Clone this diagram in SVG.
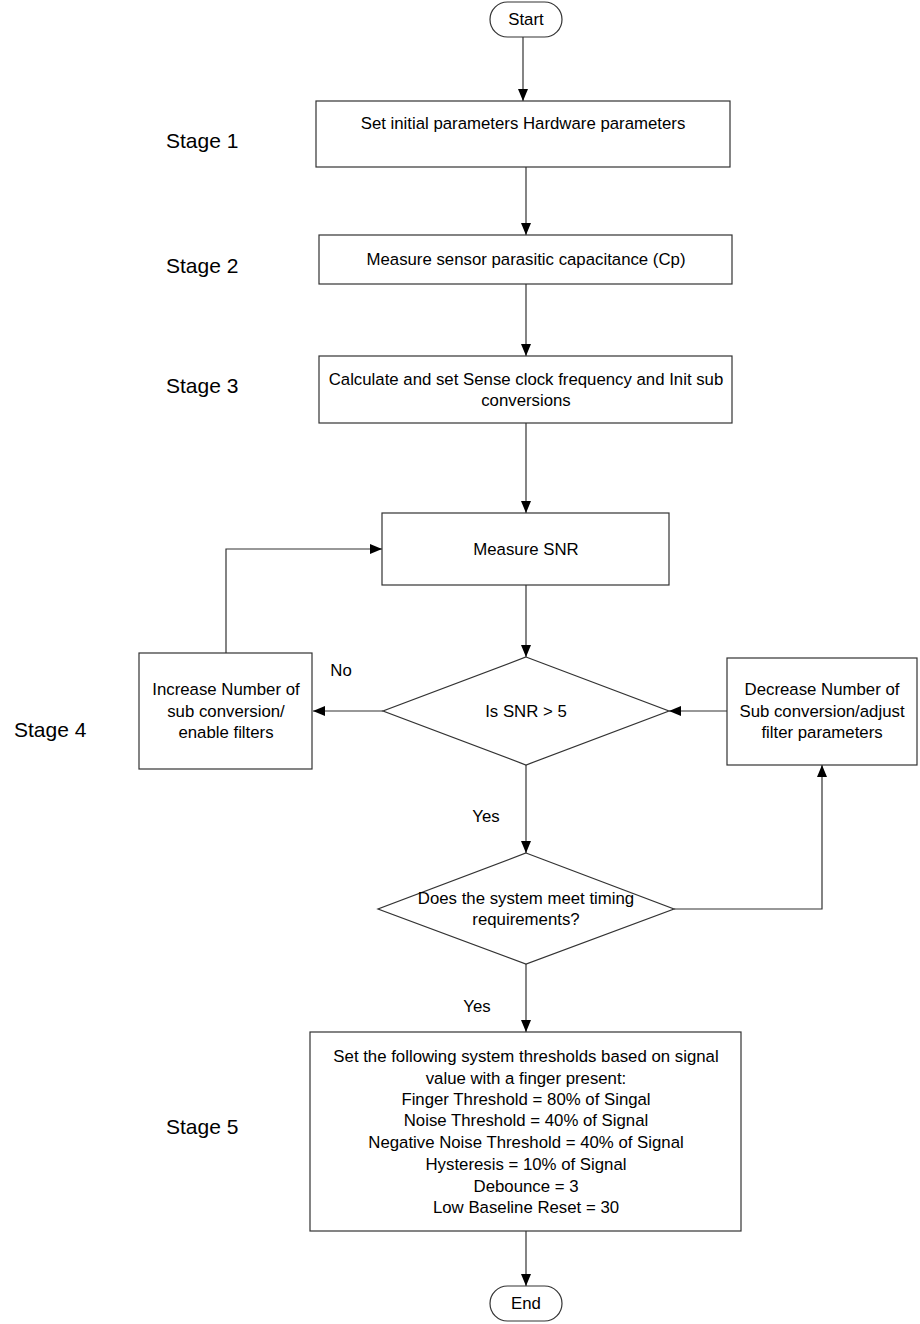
<svg xmlns="http://www.w3.org/2000/svg" width="920" height="1324" viewBox="0 0 920 1324">
<defs>
<marker id="ah" viewBox="0 0 12 10" refX="12" refY="5" markerWidth="12" markerHeight="10" markerUnits="userSpaceOnUse" orient="auto">
<path d="M0,0 L12,5 L0,10 z" fill="#000"/>
</marker>
<style>
.box{fill:#fff;stroke:#333;stroke-width:1.2}
.t{font-family:"Liberation Sans",Arial,sans-serif;font-size:16.8px;fill:#000;text-anchor:middle;dominant-baseline:central}
.stage{font-family:"Liberation Sans",Arial,sans-serif;font-size:21px;fill:#000;dominant-baseline:central}
.c{fill:none;stroke:#333;stroke-width:1.2;marker-end:url(#ah)}
</style>
</defs>
<rect width="920" height="1324" fill="#fff"/>

<g id="stages">
<text class="stage" x="166" y="140">Stage 1</text>
<text class="stage" x="166" y="265">Stage 2</text>
<text class="stage" x="166" y="385">Stage 3</text>
<text class="stage" x="14" y="729">Stage 4</text>
<text class="stage" x="166" y="1126">Stage 5</text>
</g>

<g id="connectors">
<path class="c" d="M523,37 V101"/>
<path class="c" d="M526,167 V235"/>
<path class="c" d="M526,284 V356"/>
<path class="c" d="M526,423 V513"/>
<path class="c" d="M526,585 V657"/>
<path class="c" d="M383,711 H313"/>
<path class="c" d="M226,653 V549 H382"/>
<path class="c" d="M727,711 H669"/>
<path class="c" d="M526,765 V853"/>
<path class="c" d="M674,909 H822 V765"/>
<path class="c" d="M526,964 V1032"/>
<path class="c" d="M526,1231 V1286"/>
<text class="t" x="341" y="670">No</text>
<text class="t" x="486" y="816">Yes</text>
<text class="t" x="477" y="1006">Yes</text>
</g>

<g id="start">
<rect class="box" x="490" y="2" width="72" height="35" rx="17.5"/>
<text class="t" x="526" y="19.5">Start</text>
</g>

<g id="stage1">
<rect class="box" x="316" y="101" width="414" height="66"/>
<text class="t" x="523" y="123">Set initial parameters Hardware parameters</text>
</g>

<g id="stage2">
<rect class="box" x="319" y="235" width="413" height="49"/>
<text class="t" x="526" y="259">Measure sensor parasitic capacitance (Cp)</text>
</g>

<g id="stage3">
<rect class="box" x="319" y="356" width="413" height="67"/>
<text class="t" x="526" y="379">Calculate and set Sense clock frequency and Init sub</text>
<text class="t" x="526" y="400">conversions</text>
</g>

<g id="measure-snr">
<rect class="box" x="382" y="513" width="287" height="72"/>
<text class="t" x="526" y="549">Measure SNR</text>
</g>

<g id="snr-decision">
<polygon class="box" points="526,657 669,711 526,765 383,711"/>
<text class="t" x="526" y="711">Is SNR &gt; 5</text>
</g>

<g id="increase">
<rect class="box" x="139" y="653" width="173" height="116"/>
<text class="t" x="226" y="689">Increase Number of</text>
<text class="t" x="226" y="711">sub conversion/</text>
<text class="t" x="226" y="732">enable filters</text>
</g>

<g id="decrease">
<rect class="box" x="727" y="658" width="190" height="107"/>
<text class="t" x="822" y="689">Decrease Number of</text>
<text class="t" x="822" y="711">Sub conversion/adjust</text>
<text class="t" x="822" y="732">filter parameters</text>
</g>

<g id="timing-decision">
<polygon class="box" points="526,853 674,909 526,964 378,909"/>
<text class="t" x="526" y="898">Does the system meet timing</text>
<text class="t" x="526" y="919">requirements?</text>
</g>

<g id="stage5">
<rect class="box" x="310" y="1032" width="431" height="199"/>
<text class="t" x="526" y="1056">Set the following system thresholds based on signal</text>
<text class="t" x="526" y="1078">value with a finger present:</text>
<text class="t" x="526" y="1099">Finger Threshold = 80% of Singal</text>
<text class="t" x="526" y="1120">Noise Threshold = 40% of Signal</text>
<text class="t" x="526" y="1142">Negative Noise Threshold = 40% of Signal</text>
<text class="t" x="526" y="1164">Hysteresis = 10% of Signal</text>
<text class="t" x="526" y="1186">Debounce = 3</text>
<text class="t" x="526" y="1207">Low Baseline Reset = 30</text>
</g>

<g id="end">
<rect class="box" x="490" y="1286" width="72" height="35" rx="17.5"/>
<text class="t" x="526" y="1303.5">End</text>
</g>
</svg>
